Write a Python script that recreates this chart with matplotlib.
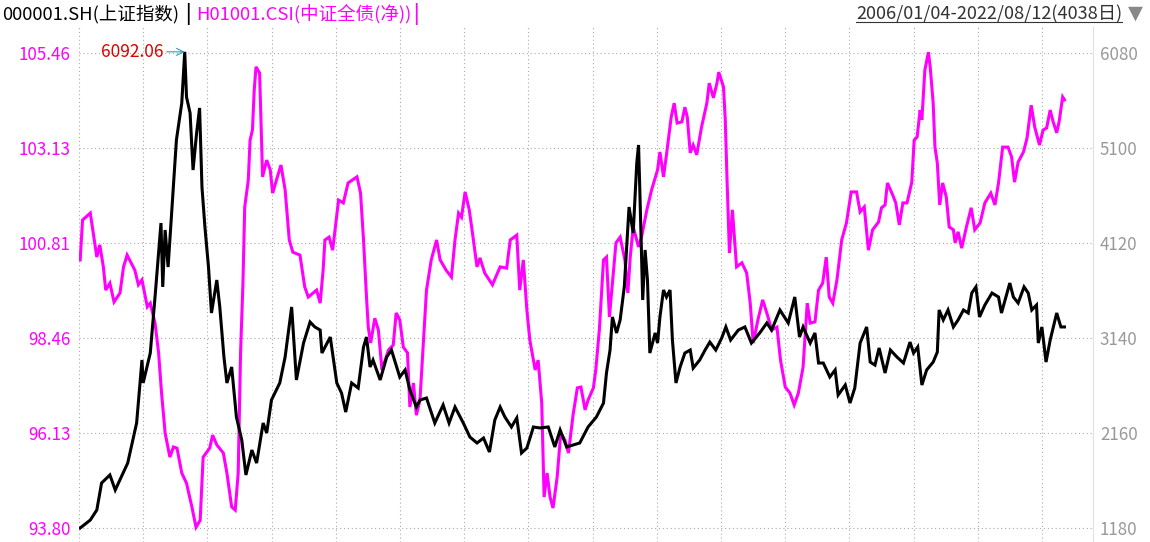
import numpy as np
import matplotlib
matplotlib.use('Agg')
import matplotlib.pyplot as plt
from matplotlib.lines import Line2D

plt.rcParams['font.family'] = ['Noto Sans CJK SC', 'DejaVu Sans']

# 上证指数 000001.SH, 右轴 (时间: 年份小数)
sh_t = [2006.03, 2006.20, 2006.31, 2006.39, 2006.53, 2006.62, 2006.83, 2006.98, 2007.07, 2007.09,
        2007.21, 2007.29, 2007.39, 2007.42, 2007.46, 2007.51, 2007.57, 2007.65, 2007.74, 2007.79,
        2007.82, 2007.88, 2007.93, 2007.99, 2008.04, 2008.08, 2008.13, 2008.19, 2008.24, 2008.33,
        2008.38, 2008.45, 2008.50, 2008.58, 2008.66, 2008.75, 2008.82, 2008.92, 2009.00, 2009.11,
        2009.17, 2009.25, 2009.39, 2009.48, 2009.59, 2009.67, 2009.79, 2009.90, 2009.98, 2010.07,
        2010.10, 2010.24, 2010.35, 2010.43, 2010.50, 2010.60, 2010.71, 2010.80, 2010.85, 2010.91,
        2010.96, 2011.08, 2011.19, 2011.27, 2011.41, 2011.50, 2011.58, 2011.69, 2011.75, 2011.86,
        2012.00, 2012.14, 2012.24, 2012.34, 2012.48, 2012.59, 2012.71, 2012.82, 2012.92, 2013.01,
        2013.10, 2013.18, 2013.29, 2013.38, 2013.46, 2013.55, 2013.66, 2013.77, 2013.91, 2014.02,
        2014.11, 2014.22, 2014.33, 2014.44, 2014.58, 2014.72, 2014.84, 2014.89, 2014.95, 2014.99,
        2015.06, 2015.12, 2015.19, 2015.27, 2015.34, 2015.40, 2015.43, 2015.45, 2015.50, 2015.54,
        2015.58, 2015.62, 2015.71, 2015.75, 2015.79, 2015.85, 2015.90, 2015.96, 2016.00, 2016.06,
        2016.13, 2016.21, 2016.30, 2016.35, 2016.46, 2016.55, 2016.63, 2016.73, 2016.83, 2016.90,
        2016.98, 2017.11, 2017.22, 2017.33, 2017.47, 2017.59, 2017.67, 2017.81, 2017.95, 2018.06,
        2018.14, 2018.20, 2018.32, 2018.40, 2018.46, 2018.54, 2018.65, 2018.74, 2018.79, 2018.91,
        2018.99, 2019.07, 2019.16, 2019.27, 2019.33, 2019.41, 2019.48, 2019.58, 2019.67, 2019.78,
        2019.89, 2020.00, 2020.06, 2020.13, 2020.20, 2020.28, 2020.39, 2020.46, 2020.49, 2020.56,
        2020.64, 2020.73, 2020.81, 2020.90, 2020.98, 2021.04, 2021.11, 2021.17, 2021.26, 2021.38,
        2021.49, 2021.54, 2021.60, 2021.68, 2021.74, 2021.82, 2021.92, 2021.99, 2022.05, 2022.13,
        2022.16, 2022.22, 2022.29, 2022.36, 2022.47, 2022.54, 2022.60]
sh_v = [1180, 1262, 1366, 1644, 1727, 1572, 1850, 2263, 2913, 2676,
        2985, 3563, 4326, 3667, 4254, 3872, 4430, 5183, 5564, 6092.06,
        5626, 5461, 4873, 5255, 5513, 4698, 4285, 3872, 3398, 3738,
        3460, 2944, 2676, 2841, 2325, 2088, 1727, 1984, 1850, 2263,
        2160, 2500, 2676, 2944, 3460, 2707, 3088, 3305, 3254, 3222,
        2985, 3150, 2676, 2572, 2376, 2676, 2624, 3047, 3150, 2841,
        2913, 2707, 2944, 3016, 2738, 2810, 2604, 2428, 2500, 2521,
        2263, 2449, 2263, 2428, 2263, 2119, 2057, 2108, 1964, 2294,
        2428, 2325, 2222, 2315, 1954, 2005, 2222, 2212, 2222, 2016,
        2191, 2016, 2036, 2057, 2222, 2325, 2469, 2779, 3016, 3357,
        3192, 3326, 3667, 4491, 4223, 4945, 5131, 4698, 3532, 4048,
        3738, 2985, 3192, 3088, 3357, 3635, 3563, 3635, 3119, 2676,
        2841, 2985, 3016, 2830, 2913, 3016, 3098, 3016, 3140, 3254,
        3119, 3222, 3254, 3088, 3192, 3295, 3222, 3429, 3295, 3563,
        3150, 3254, 3088, 3192, 2882, 2882, 2738, 2810, 2552, 2655,
        2469, 2624, 3088, 3254, 2892, 2861, 3037, 2779, 3016, 2944,
        2882, 3098, 2985, 3047, 2655, 2810, 2892, 2995, 3429, 3326,
        3429, 3254, 3326, 3429, 3398, 3604, 3667, 3357, 3480, 3604,
        3563, 3398, 3532, 3707, 3563, 3501, 3667, 3604, 3429, 3480,
        3088, 3254, 2892, 3119, 3398, 3254, 3254]

# 中证全债(净) H01001.CSI, 左轴
bond_t = [2006.03, 2006.07, 2006.20, 2006.25, 2006.31, 2006.36, 2006.42, 2006.46, 2006.53, 2006.60,
          2006.70, 2006.76, 2006.82, 2006.95, 2007.01, 2007.07, 2007.16, 2007.21, 2007.29, 2007.35,
          2007.40, 2007.46, 2007.54, 2007.60, 2007.66, 2007.74, 2007.82, 2007.91, 2007.98, 2008.05,
          2008.10, 2008.21, 2008.26, 2008.33, 2008.44, 2008.50, 2008.58, 2008.64, 2008.69, 2008.73,
          2008.77, 2008.80, 2008.86, 2008.89, 2008.93, 2008.96, 2008.99, 2009.05, 2009.07, 2009.10,
          2009.17, 2009.23, 2009.27, 2009.35, 2009.41, 2009.48, 2009.55, 2009.61, 2009.73, 2009.81,
          2009.87, 2010.01, 2010.07, 2010.12, 2010.15, 2010.22, 2010.28, 2010.38, 2010.46, 2010.54,
          2010.69, 2010.75, 2010.80, 2010.85, 2010.88, 2010.92, 2010.99, 2011.05, 2011.11, 2011.22,
          2011.30, 2011.35, 2011.41, 2011.47, 2011.54, 2011.58, 2011.64, 2011.69, 2011.75, 2011.81,
          2011.86, 2011.94, 2012.03, 2012.09, 2012.19, 2012.28, 2012.34, 2012.40, 2012.45, 2012.51,
          2012.58, 2012.65, 2012.71, 2012.76, 2012.84, 2012.97, 2013.10, 2013.21, 2013.27, 2013.38,
          2013.43, 2013.49, 2013.55, 2013.60, 2013.69, 2013.74, 2013.80, 2013.84, 2013.89, 2013.94,
          2013.99, 2014.06, 2014.12, 2014.19, 2014.25, 2014.33, 2014.40, 2014.46, 2014.53, 2014.58,
          2014.67, 2014.71, 2014.77, 2014.84, 2014.89, 2014.94, 2014.99, 2015.05, 2015.12, 2015.20,
          2015.25, 2015.29, 2015.34, 2015.43, 2015.48, 2015.57, 2015.65, 2015.75, 2015.79, 2015.85,
          2015.90, 2015.98, 2016.03, 2016.08, 2016.16, 2016.21, 2016.25, 2016.30, 2016.35, 2016.41,
          2016.49, 2016.58, 2016.62, 2016.69, 2016.75, 2016.78, 2016.86, 2016.89, 2016.92, 2016.96,
          2017.01, 2017.08, 2017.17, 2017.25, 2017.31, 2017.36, 2017.44, 2017.52, 2017.61, 2017.67,
          2017.76, 2017.82, 2017.90, 2017.98, 2018.05, 2018.12, 2018.20, 2018.27, 2018.32, 2018.40,
          2018.46, 2018.53, 2018.59, 2018.64, 2018.70, 2018.77, 2018.85, 2018.93, 2019.01, 2019.10,
          2019.16, 2019.23, 2019.30, 2019.37, 2019.47, 2019.52, 2019.58, 2019.62, 2019.71, 2019.76,
          2019.82, 2019.88, 2019.95, 2020.03, 2020.07, 2020.12, 2020.17, 2020.20, 2020.25, 2020.31,
          2020.34, 2020.39, 2020.42, 2020.46, 2020.50, 2020.55, 2020.61, 2020.66, 2020.73, 2020.76,
          2020.81, 2020.87, 2020.95, 2021.03, 2021.09, 2021.18, 2021.26, 2021.36, 2021.43, 2021.49,
          2021.56, 2021.65, 2021.71, 2021.76, 2021.82, 2021.91, 2021.97, 2022.04, 2022.10, 2022.18,
          2022.24, 2022.30, 2022.36, 2022.41, 2022.47, 2022.51, 2022.57, 2022.60]
bond_v = [100.38, 101.36, 101.53, 101.04, 100.45, 100.75, 100.21, 99.64, 99.81, 99.35,
          99.57, 100.21, 100.50, 100.13, 99.77, 99.89, 99.23, 99.32, 98.83, 98.10,
          97.11, 96.13, 95.54, 95.79, 95.76, 95.15, 94.90, 94.32, 93.82, 93.99,
          95.54, 95.76, 96.08, 95.84, 95.64, 95.15, 94.32, 94.24, 95.15, 98.10,
          99.81, 101.68, 102.34, 103.32, 103.57, 104.55, 105.12, 104.97, 103.99, 102.42,
          102.83, 102.59, 102.02, 102.42, 102.71, 102.10, 100.87, 100.57, 100.50, 99.72,
          99.47, 99.64, 99.32, 100.13, 100.87, 100.94, 100.62, 101.85, 101.78, 102.27,
          102.42, 102.02, 100.87, 99.47, 98.73, 98.34, 98.95, 98.66, 97.68, 98.17,
          98.29, 99.08, 98.91, 98.24, 98.10, 96.77, 97.36, 96.57, 96.94, 98.41,
          99.64, 100.38, 100.87, 100.38, 100.13, 99.96, 100.87, 101.53, 101.43, 102.05,
          101.61, 100.87, 100.21, 100.43, 100.06, 99.77, 100.21, 100.18, 100.87, 100.99,
          99.64, 100.38, 99.15, 98.41, 97.68, 97.92, 96.87, 94.56, 95.15, 94.56,
          94.29, 95.05, 96.13, 95.96, 95.64, 96.60, 97.24, 97.26, 96.70, 96.94,
          97.24, 97.68, 98.66, 100.38, 100.45, 98.98, 99.81, 100.80, 100.94, 100.38,
          99.57, 100.45, 101.19, 100.70, 100.94, 101.61, 102.10, 102.59, 103.03, 102.42,
          102.96, 103.89, 104.23, 103.74, 103.77, 104.13, 103.89, 103.01, 103.20, 102.96,
          103.64, 104.23, 104.72, 104.36, 104.72, 104.99, 104.63, 103.82, 102.34, 100.55,
          101.61, 100.21, 100.31, 100.06, 99.32, 98.34, 98.91, 99.40, 98.98, 98.66,
          98.73, 97.92, 97.26, 97.11, 96.82, 97.11, 97.75, 99.32, 98.83, 98.86,
          99.64, 99.81, 100.45, 99.47, 99.32, 99.89, 100.87, 101.29, 102.05, 102.05,
          101.56, 101.68, 100.62, 101.12, 101.31, 101.66, 101.73, 102.27, 101.97, 101.78,
          101.24, 101.78, 101.78, 102.29, 103.32, 103.40, 104.06, 103.82, 105.04, 105.48,
          105.12, 104.23, 103.15, 102.76, 101.73, 102.27, 101.93, 101.19, 101.12, 100.80,
          101.07, 100.67, 101.19, 101.66, 101.12, 101.29, 101.78, 102.02, 101.73, 102.27,
          103.15, 103.15, 102.91, 102.29, 102.78, 103.03, 103.37, 104.18, 103.64, 103.20,
          103.57, 103.62, 104.06, 103.77, 103.50, 103.77, 104.38, 104.31]

left_ticks = [93.80, 96.13, 98.46, 100.81, 103.13, 105.46]
left_labels = ['93.80', '96.13', '98.46', '100.81', '103.13', '105.46']
right_ticks = [1180, 2160, 3140, 4120, 5100, 6080]

title_sh = '000001.SH(上证指数)'
title_bond = 'H01001.CSI(中证全债(净))'
date_range = '2006/01/04-2022/08/12(4038日)'

MAGENTA = '#FF00FF'
W, H = 1150, 542
fig = plt.figure(figsize=(W / 100, H / 100), dpi=100)
fig.patch.set_facecolor('white')

# 绘图区: x 79..1093 px, y 27..542 px
axb = fig.add_axes([79 / W, 0, 1014 / W, 515 / H])   # 中证全债, 左轴, 在下层
axs = axb.twinx()                                     # 上证指数, 右轴, 在上层

def lims(lo, hi):
    span = hi - lo
    return lo - span * 14 / 475, hi + span * 26 / 475

axs.set_ylim(*lims(right_ticks[0], right_ticks[-1]))
axb.set_ylim(*lims(left_ticks[0], left_ticks[-1]))

axb.plot(bond_t, bond_v, color=MAGENTA, lw=2.2, solid_joinstyle='miter')
axs.plot(sh_t, sh_v, color='black', lw=2.2, solid_joinstyle='miter')

x0, x1 = 2006.01, 2006.01 + 1014 / 59.4
axb.set_xlim(x0, x1)
axb.set_xticks(np.arange(x0, x1, 64.2 / 59.4))
axb.set_xticklabels([])
axb.tick_params(axis='x', length=0)

# 左轴: 中证全债
axb.set_yticks(np.linspace(left_ticks[0], left_ticks[-1], 6))
axb.set_yticklabels(left_labels)
axb.tick_params(axis='y', length=0, pad=6, labelsize=12.2, labelcolor=MAGENTA)

# 右轴: 上证指数
axs.set_yticks(right_ticks)
axs.set_yticklabels([str(v) for v in right_ticks])
axs.tick_params(axis='y', length=0, pad=5, labelsize=12.2, labelcolor='#999999')

axb.grid(True, color='#aaaaaa', linestyle=(0, (1, 2.5)), linewidth=0.8)
axb.set_axisbelow(True)
for a in (axb, axs):
    for s in a.spines.values():
        s.set_visible(False)
axs.spines['right'].set_visible(True)
axs.spines['right'].set_color('#e0e0e0')

# 最高点标注
i_max = int(np.argmax(sh_v))
axs.annotate(f'{sh_v[i_max]:.2f}', xy=(sh_t[i_max], sh_v[i_max]),
             xytext=(-15, 0), textcoords='offset points', ha='right', va='center',
             fontsize=12.5, color='#dd0000',
             arrowprops=dict(arrowstyle='->', color='#3a9ab8', lw=0.8,
                             shrinkA=0, shrinkB=0))

# 标题行
ty = 1 - 14 / H
fig.text(2 / W, ty, title_sh, fontsize=13.3, color='black', va='center')
fig.text(185 / W, ty, '|', fontsize=13.3, color='black', va='center', fontweight='bold')
fig.text(196 / W, ty, title_bond, fontsize=13.3, color=MAGENTA, va='center')
fig.text(413 / W, ty, '|', fontsize=13.3, color=MAGENTA, va='center', fontweight='bold')
dt = fig.text(1122 / W, ty, date_range, fontsize=13.1, color='#333333', va='center', ha='right')
fig.text(1135 / W, ty + 1 / H, '▼', fontsize=14, color='#888888', va='center', ha='center',
         family=['DejaVu Sans'])

fig.canvas.draw()
bb = dt.get_window_extent()
uy = (bb.y0 + 1) / H
fig.add_artist(Line2D([bb.x0 / W, bb.x1 / W], [uy, uy], color='#333333', lw=0.8))

fig.savefig('out.png', dpi=100, facecolor='white')
